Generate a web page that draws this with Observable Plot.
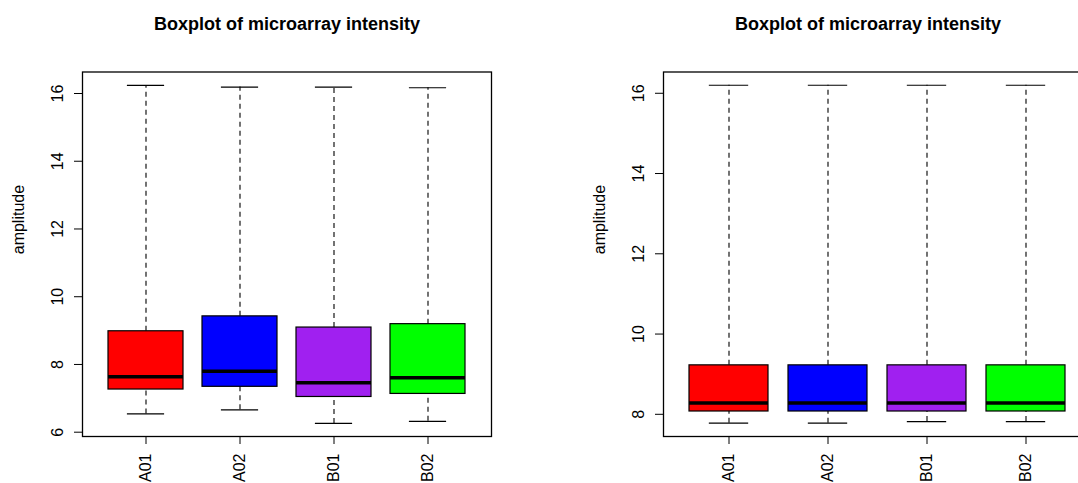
<!DOCTYPE html>
<html>
<head>
<meta charset="utf-8">
<script src="https://cdn.jsdelivr.net/npm/d3@7"></script>
<script src="https://cdn.jsdelivr.net/npm/@observablehq/plot@0.6"></script>
<style>
  html, body { margin: 0; padding: 0; background: #fff; overflow: hidden; }
  #wrap { position: relative; width: 1078px; height: 483px; overflow: hidden; background: #fff; }
  #wrap svg { position: absolute; top: 0; }
</style>
</head>
<body>
<div id="wrap"></div>
<script>
// ---- data ----
const samples = ["A01", "A02", "B01", "B02"];
const boxColors = ["#FF0000", "#0000FF", "#A020F0", "#00FF00"];
const titleText = "Boxplot of microarray intensity";
const yLabel = "amplitude";

// left panel (before normalization)
const leftLow    = [6.54, 6.66, 6.26, 6.32];
const leftQ1     = [7.26, 7.34, 7.04, 7.13];
const leftMedian = [7.64, 7.80, 7.46, 7.61];
const leftQ3     = [8.98, 9.42, 9.09, 9.19];
const leftHigh   = [16.24, 16.19, 16.19, 16.17];
const leftTicks  = [6, 8, 10, 12, 14, 16];

// right panel (after normalization)
const rightLow    = [7.78, 7.78, 7.82, 7.82];
const rightQ1     = [8.07, 8.07, 8.07, 8.07];
const rightMedian = [8.28, 8.28, 8.28, 8.28];
const rightQ3     = [9.22, 9.22, 9.22, 9.22];
const rightHigh   = [16.20, 16.20, 16.20, 16.20];
const rightTicks  = [8, 10, 12, 14, 16];

function rows(low, q1, med, q3, high) {
  return samples.map((s, i) => ({sample: s, low: low[i], q1: q1[i], median: med[i], q3: q3[i], high: high[i]}));
}

const FONT = "'Liberation Sans', Arial, Helvetica, sans-serif";
const P_INNER = 0.2, P_OUTER = 0.264;

function panel({data, ticks, yDomain, width, marginLeft, marginRight, left, titleDx}) {
  const marginTop = 71.5, marginBottom = 47, height = 483;
  const plotW = width - marginLeft - marginRight;
  const step = plotW / (samples.length - P_INNER + 2 * P_OUTER);
  const bw = step * (1 - P_INNER);
  const capInset = bw * 0.25;
  const svg = Plot.plot({
    width, height, marginLeft, marginRight, marginTop, marginBottom,
    style: {fontFamily: FONT, fontSize: "16px", color: "#000", background: "transparent"},
    x: {type: "band", domain: samples, paddingInner: P_INNER, paddingOuter: P_OUTER, align: 0.5},
    y: {domain: yDomain, nice: false},
    color: {domain: samples, range: boxColors},
    marks: [
      // whiskers (dashed)
      Plot.ruleX(data, {x: "sample", y1: "q3", y2: "high", stroke: "#000", strokeWidth: 1.1, strokeDasharray: "5,4"}),
      Plot.ruleX(data, {x: "sample", y1: "low", y2: "q1", stroke: "#000", strokeWidth: 1.1, strokeDasharray: "5,4"}),
      // staples
      Plot.tickY(data, {x: "sample", y: "high", stroke: "#000", strokeWidth: 1.2, insetLeft: capInset, insetRight: capInset}),
      Plot.tickY(data, {x: "sample", y: "low", stroke: "#000", strokeWidth: 1.2, insetLeft: capInset, insetRight: capInset}),
      // boxes
      Plot.barY(data, {x: "sample", y1: "q1", y2: "q3", fill: "sample", stroke: "#000", strokeWidth: 1.2}),
      // medians
      Plot.tickY(data, {x: "sample", y: "median", stroke: "#000", strokeWidth: 3.5}),
      Plot.frame({stroke: "#000", strokeWidth: 1.3}),
      Plot.axisY({ticks, tickSize: 8, tickPadding: 12, tickRotate: -90, fontSize: 16, label: null, tickFormat: d => String(d)}),
      Plot.axisX({tickSize: 8, tickPadding: 9, tickRotate: -90, fontSize: 16, label: null}),
      Plot.text([yLabel], {frameAnchor: "left", dx: -63.5, rotate: -90, text: d => d, fontSize: 16, lineAnchor: "middle"}),
      Plot.text([titleText], {frameAnchor: "top", dx: titleDx, dy: -42, text: d => d, fontSize: 18, fontWeight: "bold", lineAnchor: "bottom"})
    ]
  });
  svg.style.left = left + "px";
  return svg;
}

const wrap = document.getElementById("wrap");
wrap.appendChild(panel({
  data: rows(leftLow, leftQ1, leftMedian, leftQ3, leftHigh),
  ticks: leftTicks, yDomain: [5.873, 16.635],
  width: 539, marginLeft: 82, marginRight: 48, left: 0, titleDx: 0
}));
wrap.appendChild(panel({
  data: rows(rightLow, rightQ1, rightMedian, rightQ3, rightHigh),
  ticks: rightTicks, yDomain: [7.447, 16.53],
  width: 553, marginLeft: 124, marginRight: 0, left: 539, titleDx: -10
}));
</script>
</body>
</html>
